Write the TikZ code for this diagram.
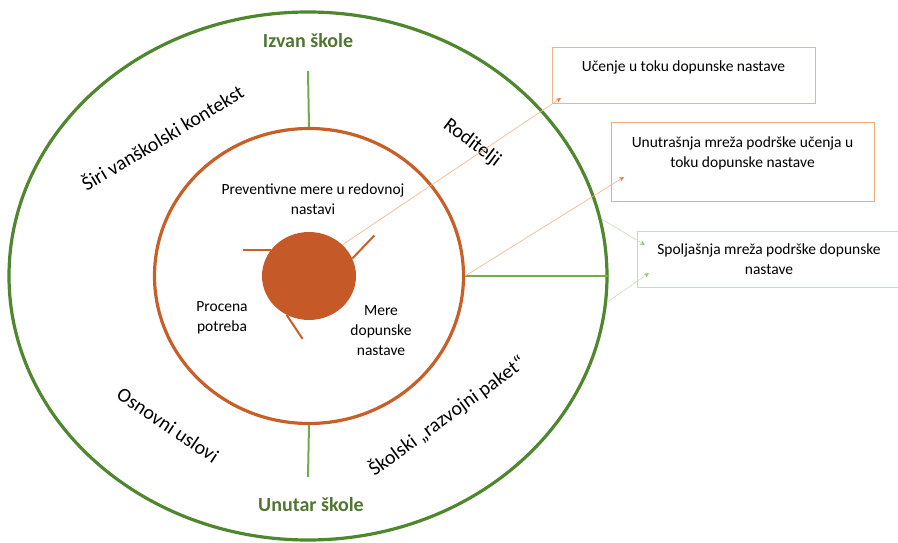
\documentclass[tikz,border=0pt]{standalone}
\usepackage{fontspec}
\setmainfont{Carlito}
\usepackage{xcolor}
\usetikzlibrary{positioning}
\usetikzlibrary{arrows.meta}
\usetikzlibrary{shapes.geometric}

\definecolor{ringgreen}{RGB}{79,135,46}
\definecolor{labelgreen}{RGB}{80,118,48}
\definecolor{spokegreen}{RGB}{112,173,71}
\definecolor{ringorange}{RGB}{200,95,40}
\definecolor{diskorange}{RGB}{197,90,40}
\definecolor{boxorange}{RGB}{244,177,131}
\definecolor{boxgreen}{RGB}{197,224,180}
\definecolor{tiporange}{RGB}{230,125,60}
\definecolor{tipgreen}{RGB}{150,200,120}

\tikzset{
  ring/.style={ellipse, inner sep=0pt, line width=3.2pt},
  ringlabel/.style={font=\fontsize{20}{24}\selectfont},
  zonelabel/.style={font=\fontsize{20}{24}\selectfont\bfseries, text=labelgreen},
  inlabel/.style={font=\fontsize{15.5}{20}\selectfont, align=center},
  infobox/.style={rectangle, draw, line width=1pt, inner sep=4pt, minimum width=263pt,
    align=center, font=\fontsize{15.5}{20}\selectfont},
  spoke/.style={spokegreen, line width=2pt},
  tick/.style={ringorange, line width=2pt},
  feedline/.style={line width=0.6pt},
}

\begin{document}
\begin{tikzpicture}[
    >={Stealth[length=5pt,width=4.5pt]},
    x=1pt, y=-1pt,
  ]

  \useasboundingbox (0,0) rectangle (898,543);

  % Rings
  \node[ring, draw=ringgreen, minimum width=598pt, minimum height=528pt]
    (outer) at (308,276) {};
  \node[ring, draw=ringorange, minimum width=309pt, minimum height=295pt]
    (inner) at (309,276) {};
  \node[ellipse, inner sep=0pt, fill=diskorange, minimum width=94pt, minimum height=88pt]
    (disk) at (309,276) {};

  % Green spokes
  \coordinate (topend) at (308,71);
  \coordinate (botend) at (308,477);
  \draw[spoke] (inner.north) -- (topend);
  \draw[spoke] (inner.south) -- (botend);
  \draw[spoke] (inner.east) -- (outer.east);

  % Ticks on the disk
  \draw[tick] (disk.145) -- ++(-28,0);
  \draw[tick] (disk.22)  -- ++(22,-23);
  \draw[tick] (disk.240) -- ++(16,24);

  % Labels in the outer ring
  \node[zonelabel] (outside) at (308,41)  {Izvan škole};
  \node[zonelabel] (inside)  at (311,505) {Unutar škole};
  \node[ringlabel, rotate=31]  (wider)   at (162,137) {Širi vanškolski kontekst};
  \node[ringlabel, rotate=-37] (parents) at (472,143) {Roditelji};
  \node[ringlabel, rotate=-34] (basics)  at (168,425) {Osnovni uslovi};
  \node[ringlabel, rotate=36]  (package) at (447,416) {Školski „razvojni paket“};

  % Labels in the inner ring
  \node[inlabel] (prevent)  at (313,199) {Preventivne mere u redovnoj\\nastavi};
  \node[inlabel] (needs)    at (222,318) {Procena\\potreba};
  \node[inlabel] (measures) at (381,331) {Mere\\dopunske\\nastave};

  % Boxes on the right
  \node[infobox, draw=boxorange, minimum height=56pt] (learnbox) at (683.5,76)
    {Učenje u toku dopunske nastave\\ ~};
  \node[infobox, draw=boxorange!90!ringorange, minimum height=78pt] (innernet) at (742.5,162)
    {Unutrašnja mreža podrške učenja u\\toku dopunske nastave\\ ~};
  \node[infobox, draw=boxgreen, minimum height=56pt] (outernet) at (769,259)
    {Spoljašnja mreža podrške dopunske\\nastave};

  % Arrow ends inside the boxes
  \coordinate (learnin)  at (561,98);
  \coordinate (innerin)  at (624,177);
  \coordinate (outerin1) at (645,245);
  \coordinate (outerin2) at (649,273);

  % Thin connectors
  \draw[feedline, boxorange, -{Stealth[length=5pt,width=4.5pt,color=tiporange]}] (disk.43) -- (learnin);
  \draw[feedline, boxorange, -{Stealth[length=5pt,width=4.5pt,color=tiporange]}] (inner.east) -- (innerin);
  \draw[feedline, boxgreen, -{Stealth[length=5pt,width=4.5pt,color=tipgreen]}] (outer.11) -- (outerin1);
  \draw[feedline, boxgreen, -{Stealth[length=5pt,width=4.5pt,color=tipgreen]}] (outer.-5) -- (outerin2);

\end{tikzpicture}
\end{document}
